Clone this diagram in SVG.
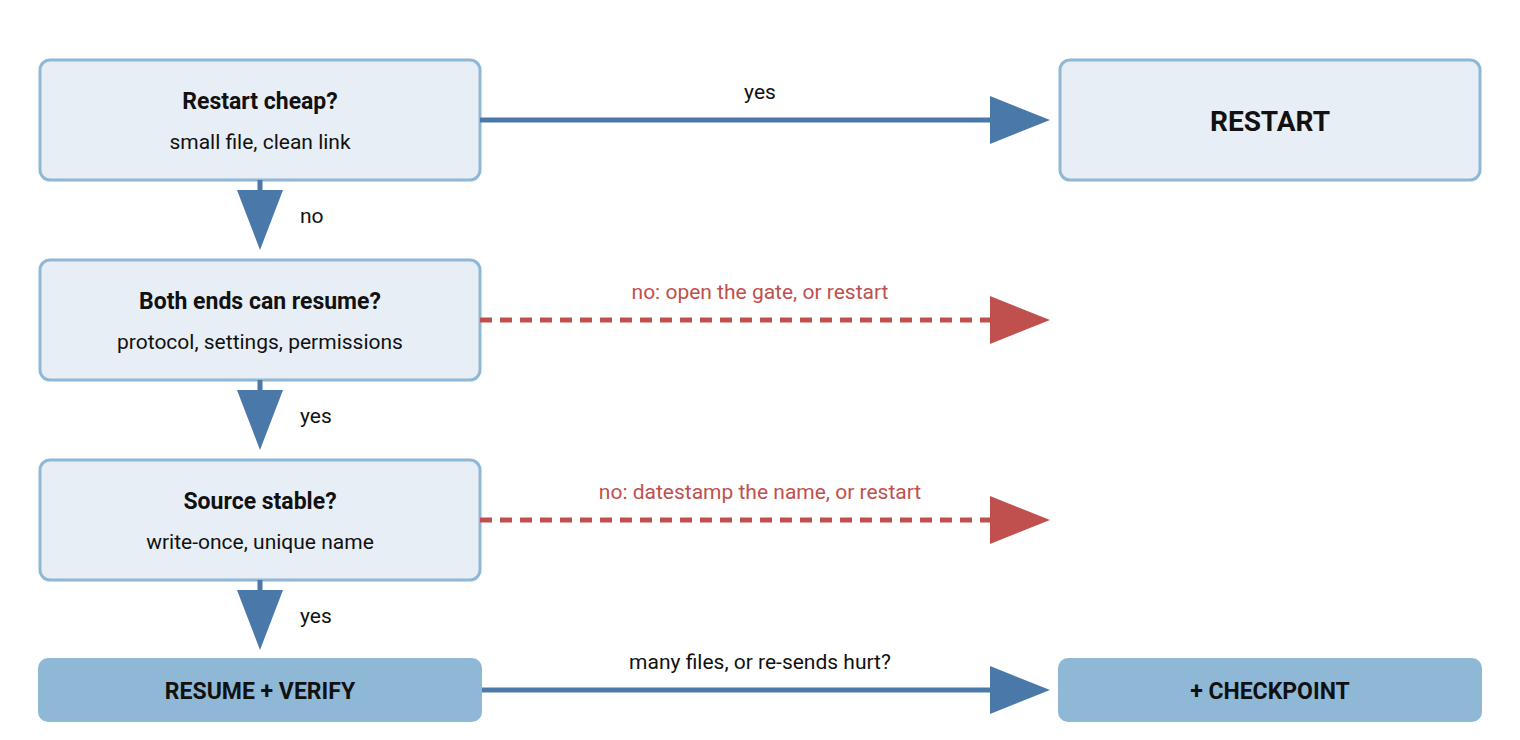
<svg xmlns="http://www.w3.org/2000/svg" width="1520" height="740" viewBox="0 0 1520 740">
<style>
.box{fill:#e8eef5;stroke:#8fb8d6;stroke-width:3}
.term{fill:#8fb8d6}
.t{font-family:Roboto,"Liberation Sans",sans-serif;font-size:23px;font-weight:bold;fill:#111;text-anchor:middle}
.s{font-family:Roboto,"Liberation Sans",sans-serif;font-size:21px;fill:#111;text-anchor:middle}
.l{font-family:Roboto,"Liberation Sans",sans-serif;font-size:21px;fill:#111}
.lr{font-family:Roboto,"Liberation Sans",sans-serif;font-size:21px;fill:#c0504d;text-anchor:middle}
.b{stroke:#4a78a8;stroke-width:5;fill:none}
.r{stroke:#c0504d;stroke-width:5;fill:none;stroke-dasharray:12 8}
.bh{fill:#4a78a8}
.rh{fill:#c0504d}
</style>
<rect width="1520" height="740" fill="#fff"/>
<g id="n1"><rect class="box" x="40" y="60" width="440" height="120" rx="10"/><text class="t" x="260" y="109">Restart cheap?</text><text class="s" x="260" y="149">small file, clean link</text></g>
<g id="n2"><rect class="box" x="1060" y="60" width="420" height="120" rx="10"/><text class="t" x="1270" y="131" style="font-size:28px">RESTART</text></g>
<g id="n3"><rect class="box" x="40" y="260" width="440" height="120" rx="10"/><text class="t" x="260" y="309">Both ends can resume?</text><text class="s" x="260" y="349">protocol, settings, permissions</text></g>
<g id="n4"><rect class="box" x="40" y="460" width="440" height="120" rx="10"/><text class="t" x="260" y="509">Source stable?</text><text class="s" x="260" y="549">write-once, unique name</text></g>
<g id="n5"><rect class="term" x="38" y="658" width="444" height="64" rx="10"/><text class="t" x="260" y="699">RESUME + VERIFY</text></g>
<g id="n6"><rect class="term" x="1058" y="658" width="424" height="64" rx="10"/><text class="t" x="1270" y="699">+ CHECKPOINT</text></g>
<g id="edges">
<line class="b" x1="480" y1="120" x2="992" y2="120"/><polygon class="bh" points="990,96 1050,120 990,144"/><text class="l" x="760" y="99" text-anchor="middle">yes</text>
<line class="b" x1="260" y1="180" x2="260" y2="192"/><polygon class="bh" points="237,190 283,190 260,250"/><text class="l" x="300" y="223">no</text>
<line class="r" x1="480" y1="320" x2="990" y2="320"/><polygon class="rh" points="990,296 1050,320 990,344"/><text class="lr" x="760" y="299">no: open the gate, or restart</text>
<line class="b" x1="260" y1="380" x2="260" y2="392"/><polygon class="bh" points="237,390 283,390 260,450"/><text class="l" x="300" y="423">yes</text>
<line class="r" x1="480" y1="520" x2="990" y2="520"/><polygon class="rh" points="990,496 1050,520 990,544"/><text class="lr" x="760" y="499">no: datestamp the name, or restart</text>
<line class="b" x1="260" y1="580" x2="260" y2="592"/><polygon class="bh" points="237,590 283,590 260,650"/><text class="l" x="300" y="623">yes</text>
<line class="b" x1="482" y1="690" x2="992" y2="690"/><polygon class="bh" points="990,666 1050,690 990,714"/><text class="l" x="760" y="669" text-anchor="middle">many files, or re-sends hurt?</text>
</g>
</svg>
